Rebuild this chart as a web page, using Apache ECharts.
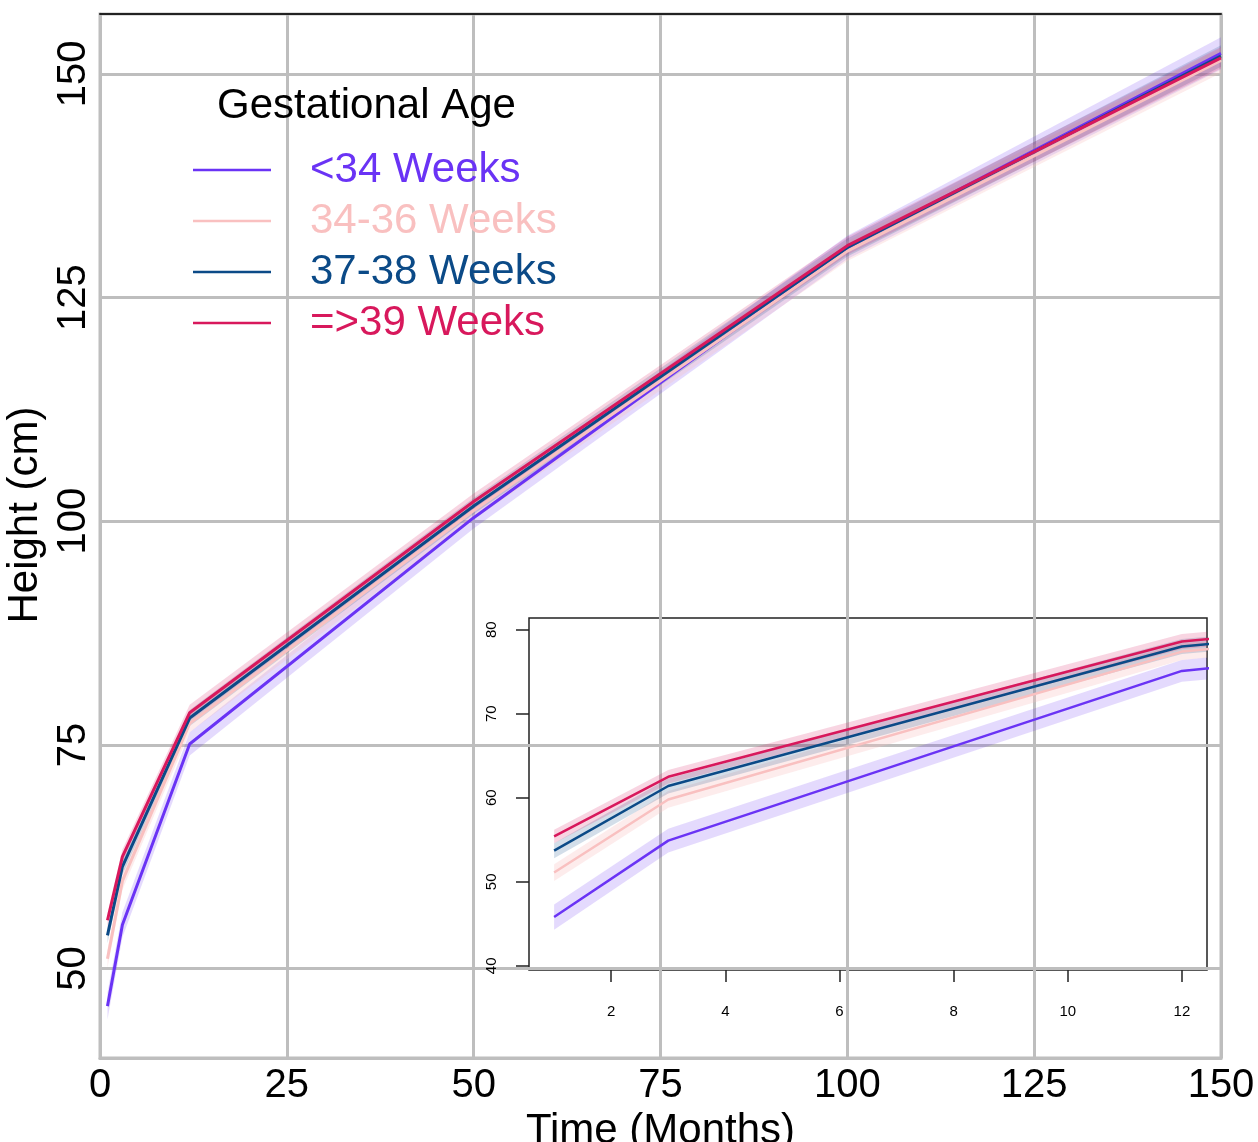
<!DOCTYPE html>
<html>
<head>
<meta charset="utf-8">
<script src="https://cdn.jsdelivr.net/npm/echarts@6/dist/echarts.min.js"></script>
<style>html,body{margin:0;padding:0;background:#fff}#c{width:1258px;height:1142px}</style>
</head>
<body>
<div id="c"></div>
<script>
// ---- data ----
const months = [1, 3, 12, 50, 100, 150];
const groupNames = ['<34 Weeks', '34-36 Weeks', '37-38 Weeks', '=>39 Weeks'];
const hLt34   = [45.8, 54.9, 75.1, 100.4, 130.6, 152.3];
const h34_36  = [51.1, 59.8, 77.4, 101.2, 130.2, 151.5];
const h37_38  = [53.7, 61.4, 78.0, 101.7, 130.6, 152.0];
const hGe39   = [55.4, 62.5, 78.6, 102.2, 130.8, 151.8];
// half-widths of the shaded confidence bands
const bLt34   = [1.5, 1.4, 1.3, 1.2, 1.3, 1.8];
const b34_36  = [1.0, 1.0, 1.0, 1.0, 1.1, 1.4];
const b37_38  = [0.9, 0.9, 0.9, 0.9, 1.0, 1.2];
const bGe39   = [0.8, 0.8, 0.9, 0.9, 1.0, 1.2];
const mainYTicks = [50, 75, 100, 125, 150];
const insetXTicks = [2, 4, 6, 8, 10, 12];
const insetYTicks = [40, 50, 60, 70, 80];

const colors = ['#6a33f5', '#f9c0c0', '#0b4a87', '#d8185c'];
const heights = [hLt34, h34_36, h37_38, hGe39];
const bands = [bLt34, b34_36, b37_38, bGe39];

const FONT = '"Liberation Sans", Arial, sans-serif';
const series = [];
function pairs(vals){ return months.map((m,i)=>[m, vals[i]]); }

[0,1].forEach(g => {
  heights.forEach((h, k) => {
    // each item: one band segment between month i and month i+1
    const segs = [];
    for (let i = 0; i < months.length - 1; i++) {
      segs.push([months[i], h[i] - bands[k][i], h[i] + bands[k][i],
                 months[i+1], h[i+1] - bands[k][i+1], h[i+1] + bands[k][i+1]]);
    }
    series.push({
      type: 'custom', xAxisIndex: g, yAxisIndex: g, clip: true, silent: true, z: 1,
      data: segs,
      encode: { x: [0, 3], y: [1, 2, 4, 5] },
      renderItem: function (params, api) {
        const p1 = api.coord([api.value(0), api.value(1)]);
        const p2 = api.coord([api.value(3), api.value(4)]);
        const p3 = api.coord([api.value(3), api.value(5)]);
        const p4 = api.coord([api.value(0), api.value(2)]);
        return {
          type: 'polygon',
          shape: { points: [p1, p2, p3, p4] },
          style: { fill: colors[k], opacity: k === 1 ? 0.3 : 0.18, stroke: null }
        };
      }
    });
  });
  heights.forEach((h, k) => {
    series.push({
      name: groupNames[k], type: 'line', xAxisIndex: g, yAxisIndex: g,
      data: pairs(h), symbol: 'none', z: 3,
      lineStyle: { color: colors[k], width: g === 0 ? 3 : 2.5 },
      itemStyle: { color: colors[k] }
    });
  });
});

const chart = echarts.init(document.getElementById('c'), null, { renderer: 'canvas' });
chart.setOption({
  animation: false,
  backgroundColor: '#fff',
  textStyle: { fontFamily: FONT },
  title: {
    text: 'Gestational Age', left: 212, top: 80,
    textStyle: { fontFamily: FONT, fontSize: 42, fontWeight: 'normal', color: '#000' }
  },
  legend: {
    orient: 'vertical', left: 193, top: 147, itemGap: 5, padding: 0,
    icon: 'rect', itemWidth: 78, itemHeight: 2.5,
    textStyle: { fontFamily: FONT, fontSize: 42, lineHeight: 46, padding: [0, 0, 0, 34] },
    data: groupNames.map((n, k) => ({ name: n, textStyle: { color: colors[k] } }))
  },
  grid: [
    { left: 100, right: 37, top: 14, bottom: 84, show: true, borderColor: '#bebebe', borderWidth: 3, outerBoundsMode: 'none', containLabel: false },
    { left: 529, right: 51, top: 618, bottom: 172, show: true, borderColor: '#222', borderWidth: 1.5, backgroundColor: 'transparent', outerBoundsMode: 'none', containLabel: false }
  ],
  xAxis: [
    {
      type: 'value', gridIndex: 0, min: 0, max: 150, interval: 25,
      name: 'Time (Months)', nameLocation: 'middle', nameGap: 35,
      nameTextStyle: { fontFamily: FONT, fontSize: 42, color: '#000' },
      axisLine: { show: true, lineStyle: { color: '#bebebe', width: 3 } },
      axisTick: { show: false },
      axisLabel: { fontFamily: FONT, fontSize: 40, color: '#000', margin: 8 },
      splitLine: { show: true, lineStyle: { color: '#bebebe', width: 3 } }
    },
    {
      type: 'value', gridIndex: 1, min: 0.56, max: 12.44,
      axisLine: { show: false },
      axisTick: { show: true, customValues: insetXTicks, length: 12, lineStyle: { color: '#222', width: 1.5 } },
      axisLabel: { customValues: insetXTicks, fontFamily: FONT, fontSize: 15, color: '#000', margin: 34 },
      splitLine: { show: false }
    },
    {
      type: 'value', gridIndex: 0, position: 'top', min: 0, max: 150,
      axisLine: { show: true, onZero: false, lineStyle: { color: '#222', width: 2 } },
      axisTick: { show: false }, axisLabel: { show: false }, splitLine: { show: false }
    }
  ],
  yAxis: [
    {
      type: 'value', gridIndex: 0, min: 40, max: 156.7,
      name: 'Height (cm)', nameLocation: 'middle', nameGap: 41,
      nameTextStyle: { fontFamily: FONT, fontSize: 42, color: '#000', padding: [0, 0, 0, 42] },
      axisLine: { show: true, lineStyle: { color: '#bebebe', width: 3 } },
      axisTick: { show: false, customValues: mainYTicks },
      axisLabel: { customValues: mainYTicks, rotate: 90, fontFamily: FONT, fontSize: 40, color: '#000', margin: 6 },
      splitLine: { show: true, lineStyle: { color: '#bebebe', width: 3 } }
    },
    {
      type: 'value', gridIndex: 1, min: 39.5, max: 81.4,
      axisLine: { show: false },
      axisTick: { show: true, customValues: insetYTicks, length: 13, lineStyle: { color: '#222', width: 1.5 } },
      axisLabel: { customValues: insetYTicks, rotate: 90, fontFamily: FONT, fontSize: 15, color: '#000', margin: 30 },
      splitLine: { show: false }
    }
  ],
  series: series
});
</script>
</body>
</html>
